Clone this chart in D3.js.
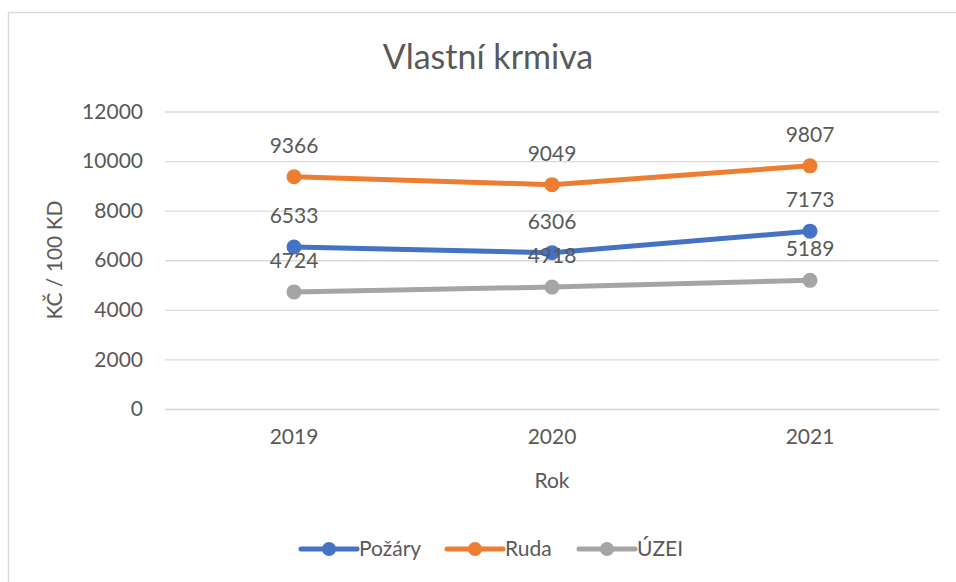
<!DOCTYPE html>
<html>
<head>
<meta charset="utf-8">
<script src="https://cdn.jsdelivr.net/npm/d3@7"></script>
<style>
  body { margin: 0; background: #fff; }
  svg text { font-family: Lato, "Open Sans", sans-serif; fill: #595959; }
</style>
</head>
<body>
<div id="chart"></div>
<script>
const years = ['2019', '2020', '2021'];
const pozary = [6533, 6306, 7173];
const ruda = [9366, 9049, 9807];
const uzei = [4724, 4918, 5189];
const yTicks = [0, 2000, 4000, 6000, 8000, 10000, 12000];

const series = [
    { name: 'Požáry', values: pozary, color: '#4472C4' },
    { name: 'Ruda', values: ruda, color: '#ED7D31' },
    { name: 'ÚZEI', values: uzei, color: '#A5A5A5' },
];

const width = 956;
const height = 582;
const plot = { left: 165, right: 939, top: 111.5, bottom: 409 };
const fs = '21px';

const svg = d3.select('#chart').append('svg')
    .attr('width', width).attr('height', height);

// chart frame (runs off the right and bottom edge)
svg.append('rect')
    .attr('x', 8.5).attr('y', 12.5)
    .attr('width', 960).attr('height', 600)
    .attr('fill', 'none').attr('stroke', '#d9d9d9').attr('stroke-width', 1.5);

const xScale = d3.scaleBand().domain(years).range([plot.left, plot.right]);
const yScale = d3.scaleLinear().domain([0, 12000]).range([plot.bottom, plot.top]);

// gridlines
const grid = svg.append('g').attr('transform', `translate(${plot.left}, 0)`)
    .call(d3.axisLeft(yScale).tickValues(yTicks).tickFormat('').tickSize(-(plot.right - plot.left)));
grid.select('.domain').remove();
grid.selectAll('line').attr('stroke', '#d9d9d9').attr('stroke-width', 1.3);

// y tick labels
const yAxis = svg.append('g').attr('transform', `translate(${plot.left}, 0)`)
    .call(d3.axisLeft(yScale).tickValues(yTicks).tickFormat(d3.format('d')).tickSize(0).tickPadding(22));
yAxis.select('.domain').remove();
yAxis.selectAll('text').style('font-size', fs).attr('fill', '#595959');

// x axis
const xAxis = svg.append('g').attr('transform', `translate(0, ${plot.bottom})`)
    .call(d3.axisBottom(xScale).tickSize(0).tickPadding(20));
xAxis.select('.domain').attr('stroke', '#d9d9d9').attr('stroke-width', 1.3);
xAxis.selectAll('text').style('font-size', fs).attr('fill', '#595959');

const cx = (i) => xScale(years[i]) + xScale.bandwidth() / 2;

// lines, markers, labels
series.forEach((s) => {
    const line = d3.line().x((d, i) => cx(i)).y((d) => yScale(d));
    svg.append('path').datum(s.values)
        .attr('d', line).attr('fill', 'none')
        .attr('stroke', s.color).attr('stroke-width', 5).attr('stroke-linejoin', 'round');
    svg.append('g').selectAll('circle').data(s.values).join('circle')
        .attr('cx', (d, i) => cx(i)).attr('cy', (d) => yScale(d))
        .attr('r', 7.5).attr('fill', s.color);
    svg.append('g').selectAll('text').data(s.values).join('text')
        .attr('x', (d, i) => cx(i)).attr('y', (d) => yScale(d) - 24)
        .attr('text-anchor', 'middle').style('font-size', fs)
        .text((d) => d);
});

// titles
svg.append('text').attr('x', 488).attr('y', 69).attr('text-anchor', 'middle')
    .style('font-size', '34px').text('Vlastní krmiva');
svg.append('text').attr('transform', 'translate(62, 260) rotate(-90)')
    .attr('text-anchor', 'middle').style('font-size', fs).text('KČ / 100 KD');
svg.append('text').attr('x', 552).attr('y', 488).attr('text-anchor', 'middle')
    .style('font-size', fs).text('Rok');

// legend
const legendX = [301, 447, 579];
const legend = svg.append('g').selectAll('g').data(series).join('g')
    .attr('transform', (d, i) => `translate(${legendX[i]}, 549)`);
legend.append('line').attr('x1', 0).attr('x2', 56)
    .attr('stroke', (d) => d.color).attr('stroke-width', 5).attr('stroke-linecap', 'round');
legend.append('circle').attr('cx', 28).attr('r', 7).attr('fill', (d) => d.color);
legend.append('text').attr('x', 58).attr('y', 7).style('font-size', fs).text((d) => d.name);
</script>
</body>
</html>
